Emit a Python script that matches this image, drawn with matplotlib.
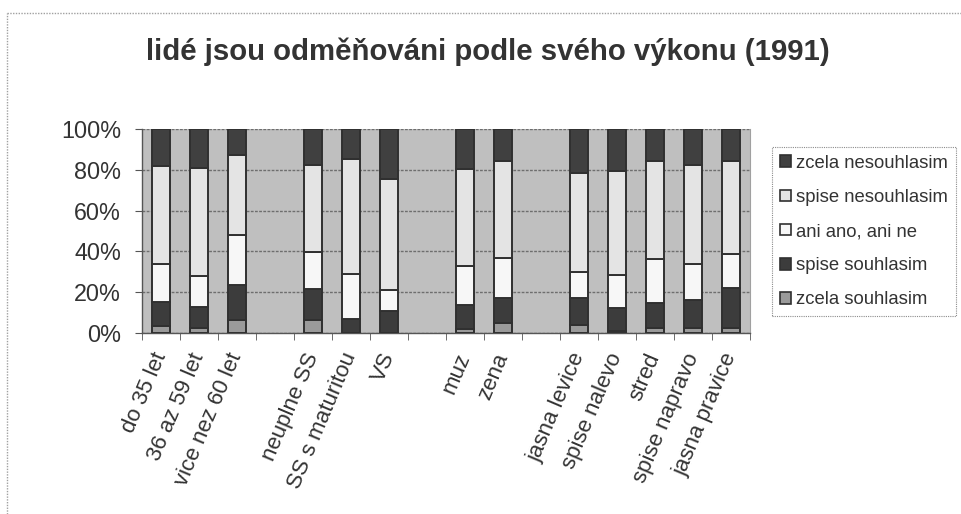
import matplotlib
matplotlib.use("Agg")
import matplotlib.pyplot as plt
from matplotlib.lines import Line2D
from matplotlib.patches import Patch
import numpy as np

# === Data ===
groups = [
    ["do 35 let", "36 az 59 let", "vice nez 60 let"],
    ["neuplne SS", "SS s maturitou", "VS"],
    ["muz", "zena"],
    ["jasna levice", "spise nalevo", "stred", "spise napravo", "jasna pravice"],
]
series_names = ["zcela souhlasim", "spise souhlasim", "ani ano, ani ne",
                "spise nesouhlasim", "zcela nesouhlasim"]
zcela_souhlasim = [3.2, 2.3, 6.4, 6.4, 0.0, 0.0, 2.0, 4.7, 3.7, 1.1, 2.6, 2.6, 2.6]
spise_souhlasim = [11.8, 10.4, 17.3, 15.0, 6.9, 10.9, 11.5, 12.6, 13.5, 11.2, 12.1, 13.7, 19.3]
ani_ano_ani_ne = [19.0, 15.3, 24.1, 18.3, 22.0, 10.0, 19.2, 19.3, 12.7, 16.3, 21.6, 17.7, 16.6]
spise_nesouhlasim = [47.7, 52.7, 39.7, 42.8, 56.5, 54.6, 47.7, 47.7, 48.5, 50.6, 48.0, 48.2, 45.8]
zcela_nesouhlasim = [18.3, 19.3, 12.5, 17.5, 14.6, 24.5, 19.6, 15.7, 21.6, 20.8, 15.7, 17.8, 15.7]
yticks = [0, 20, 40, 60, 80, 100]
title = "lidé jsou odměňováni podle svého výkonu (1991)"

# === Style ===
colors = ["#9a9a9a", "#3c3c3c", "#f7f7f7", "#e4e4e4", "#404040"]
edge = "#303030"
txt = "#333333"
plt.rcParams["font.family"] = ["Liberation Sans", "DejaVu Sans"]

# positions with an empty slot between groups
labels = []
pos = []
x = 0
for g in groups:
    for name in g:
        labels.append(name)
        pos.append(x)
        x += 1
    x += 1
pos = np.array(pos)
nslots = x - 1

data = np.array([zcela_souhlasim, spise_souhlasim, ani_ano_ani_ne,
                 spise_nesouhlasim, zcela_nesouhlasim])
data = data / data.sum(axis=0) * 100

W, H = 961, 514
fig = plt.figure(figsize=(W / 100, H / 100), dpi=100)
ax = fig.add_axes([142 / W, 1 - 333 / H, 608 / W, 204 / H])
ax.set_facecolor("#bfbfbf")

bottom = np.zeros(len(labels))
for vals, c, name in zip(data, colors, series_names):
    ax.bar(pos, vals, bottom=bottom, width=0.45, color=c, edgecolor=edge,
           linewidth=1.4, label=name, zorder=3)
    bottom += vals

ax.set_xlim(-0.5, nslots - 0.5)
ax.set_ylim(0, 100)
ax.set_yticks(yticks)
ax.set_yticklabels([f"{v}%" for v in yticks], fontsize=16.8, color=txt)
ax.yaxis.grid(True, color="#6e6e6e", linestyle=(0, (2, 1)), linewidth=1.0, zorder=1)
ax.tick_params(axis="y", direction="out", length=5, color="#555555", pad=10)

ax.set_xticks(pos)
ax.set_xticklabels(labels, fontsize=16, color=txt, rotation=67,
                   ha="right", va="center", rotation_mode="anchor")
ax.tick_params(axis="x", length=0, pad=15)
ax.set_xticks(np.arange(-0.5, nslots, 1), minor=True)
ax.tick_params(axis="x", which="minor", direction="out", length=5, color="#555555")

for s in ["left", "bottom"]:
    ax.spines[s].set_color("#555555")
    ax.spines[s].set_linewidth(1.0)
ax.spines["top"].set_visible(False)
ax.spines["right"].set_color("#a0a0a0")

fig.text(488 / W, 1 - 52 / H, title, ha="center", va="center",
         fontsize=21.2, fontweight="bold", color=txt)

handles = [Patch(facecolor=c, edgecolor=edge, linewidth=1.2, label=n)
           for c, n in zip(colors, series_names)][::-1]
leg = fig.legend(handles=handles, loc="upper left",
                 bbox_to_anchor=(772 / W, 1 - 147 / H), borderaxespad=0,
                 fontsize=13.3, frameon=True, fancybox=False,
                 handlelength=0.6, handleheight=0.6, handletextpad=0.3,
                 labelspacing=0.93, borderpad=0.42, labelcolor=txt)
leg.get_frame().set_edgecolor("#707070")
leg.get_frame().set_linestyle((0, (1, 1)))
leg.get_frame().set_linewidth(0.8)

# outer chart border (top and left edges visible)
fig.add_artist(Line2D([7 / W, 1], [1 - 13 / H, 1 - 13 / H], color="#a0a0a0",
                      linewidth=1, linestyle=(0, (1, 1))))
fig.add_artist(Line2D([7 / W, 7 / W], [0, 1 - 13 / H], color="#a0a0a0",
                      linewidth=1, linestyle=(0, (1, 1))))

fig.savefig("out.png", dpi=100)
